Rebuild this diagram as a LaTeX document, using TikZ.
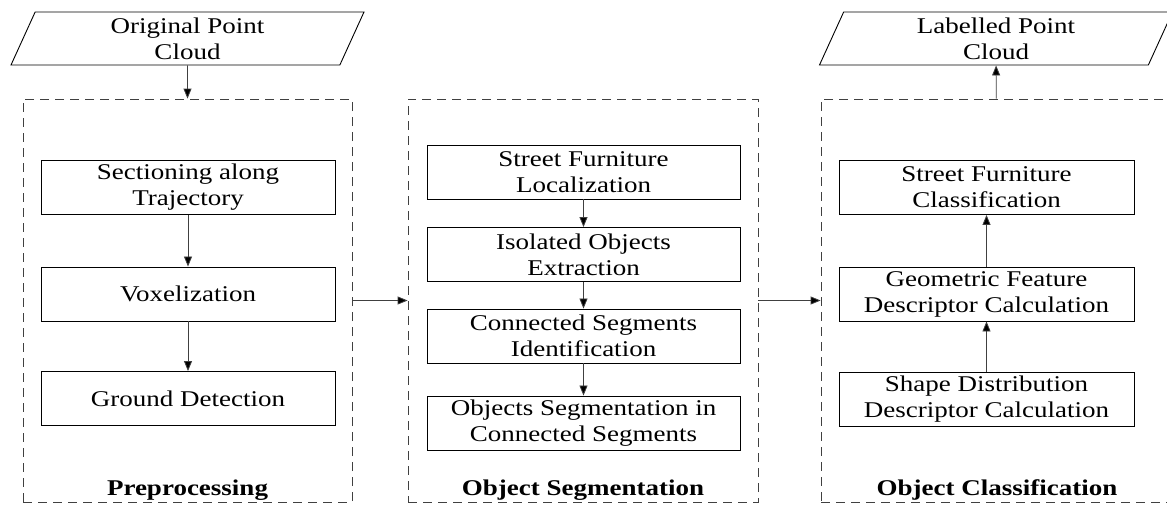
\documentclass[tikz,border=0pt]{standalone}
\usepackage{fontspec}
\setmainfont[FakeStretch=1.2]{Liberation Serif}
\usepackage{tikz}
\usetikzlibrary{shapes.geometric, arrows.meta}

\begin{document}
\begin{tikzpicture}[x=1pt, y=-1pt,
  font=\fontsize{22.5}{26}\selectfont,
  stepbox/.style={draw, line width=0.9pt, rectangle, minimum height=54pt, inner sep=0pt, align=center},
  stage/.style={draw=black!75, line width=0.8pt, dash pattern=on 9pt off 6pt, rectangle, minimum height=403pt, inner sep=0pt},
  inout/.style={draw, line width=0.9pt, trapezium, trapezium left angle=60, trapezium right angle=120, trapezium stretches body, minimum width=353pt, minimum height=53pt, inner sep=0pt, align=center},
  title/.style={font=\fontsize{22.5}{26}\selectfont\bfseries, anchor=base},
  arr/.style={draw=black!75, line width=0.8pt, -{Triangle[length=10pt, width=8pt, fill=black]}}]
\useasboundingbox (0,0) rectangle (1167,504);

% input and output clouds
\node[inout] (orig) at (187.5,38.5) {Original Point\\Cloud};
\node[inout] (labelled) at (996,38.5) {Labelled Point\\Cloud};

% the three stages
\node[stage, minimum width=329pt] (pre) at (187.5,300.5) {};
\node[stage, minimum width=350pt] (seg) at (583,300.5) {};
\node[stage, minimum width=352pt] (cls) at (997,300.5) {};
\node[title] (preT) at (187.5,495) {Preprocessing};
\node[title] (segT) at (583,495) {Object Segmentation};
\node[title] (clsT) at (997,495) {Object Classification};

% preprocessing
\node[stepbox, minimum width=294pt] (section) at (188,187.5) {Sectioning along\\Trajectory};
\node[stepbox, minimum width=294pt] (voxel) at (188,294) {Voxelization};
\node[stepbox, minimum width=294pt] (ground) at (188,398.5) {Ground Detection};

% segmentation
\node[stepbox, minimum width=313pt] (local) at (583.5,172) {Street Furniture\\Localization};
\node[stepbox, minimum width=313pt] (isolated) at (583.5,254.5) {Isolated Objects\\Extraction};
\node[stepbox, minimum width=313pt] (connected) at (583.5,336) {Connected Segments\\Identification};
\node[stepbox, minimum width=313pt] (objseg) at (583.5,423) {Objects Segmentation in\\Connected Segments};

% classification
\node[stepbox, minimum width=295pt] (classify) at (986.5,187.5) {Street Furniture\\Classification};
\node[stepbox, minimum width=295pt] (geometric) at (986.5,294) {Geometric Feature\\Descriptor Calculation};
\node[stepbox, minimum width=295pt] (shape) at (986.5,399) {Shape Distribution\\Descriptor Calculation};

\draw[arr] (orig) -- (pre);
\draw[arr] (section) -- (voxel);
\draw[arr] (voxel) -- (ground);
\draw[arr] (pre) -- (seg);
\draw[arr] (local) -- (isolated);
\draw[arr] (isolated) -- (connected);
\draw[arr] (connected) -- (objseg);
\draw[arr] (seg) -- (cls);
\draw[arr] (shape) -- (geometric);
\draw[arr] (geometric) -- (classify);
\draw[arr] (cls) -- (labelled);
\end{tikzpicture}
\end{document}
